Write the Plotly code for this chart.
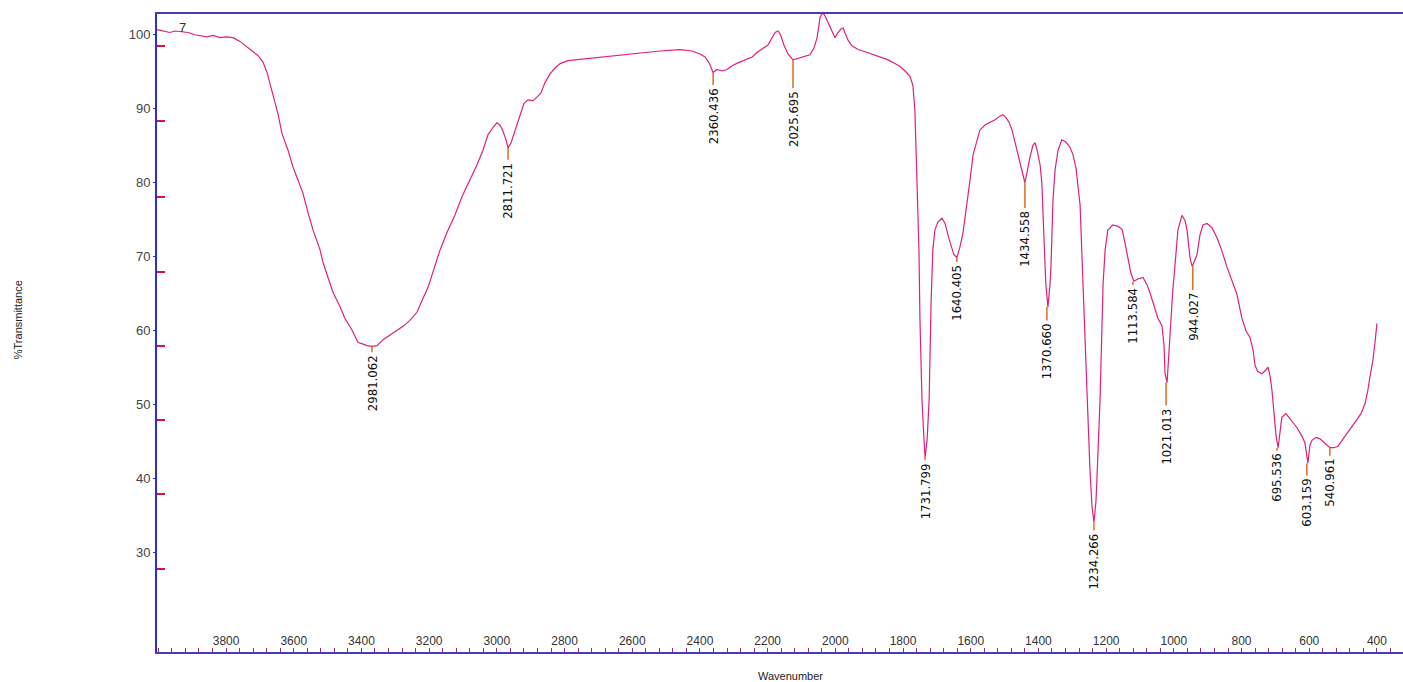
import plotly.graph_objects as go

# ---- spectrum data (wavenumber cm-1, %T) ----
wavenumber = [4004, 3986, 3966, 3951, 3930, 3912, 3892, 3877, 3856, 3838, 3818, 3797, 3779, 3759, 3738,
              3720, 3706, 3691, 3679, 3661, 3646, 3635, 3617, 3602, 3587, 3573, 3558, 3543, 3522, 3514,
              3499, 3484, 3463, 3449, 3428, 3410, 3395, 3384, 3369, 3354, 3336, 3316, 3295, 3274, 3257,
              3236, 3221, 3203, 3189, 3177, 3168, 3147, 3124, 3103, 3079, 3059, 3041, 3026, 3011, 3000,
              2991, 2982, 2973, 2967, 2958, 2946, 2932, 2920, 2908, 2893, 2881, 2870, 2858, 2843, 2828,
              2813, 2790, 2769, 2725, 2695, 2636, 2577, 2518, 2459, 2423, 2400, 2385, 2373, 2361, 2350,
              2335, 2320, 2305, 2288, 2267, 2246, 2229, 2211, 2199, 2187, 2178, 2169, 2161, 2152, 2140,
              2125, 2110, 2090, 2075, 2063, 2054, 2048, 2045, 2039, 2034, 2028, 2019, 2010, 2001, 1992,
              1983, 1977, 1972, 1963, 1951, 1933, 1912, 1892, 1868, 1844, 1824, 1809, 1794, 1780, 1771,
              1765, 1759, 1753, 1750, 1744, 1738, 1735, 1729, 1723, 1717, 1712, 1706, 1697, 1685, 1676,
              1667, 1658, 1650, 1641, 1632, 1623, 1611, 1602, 1593, 1582, 1573, 1558, 1543, 1528, 1514,
              1505, 1496, 1487, 1478, 1469, 1460, 1452, 1443, 1440, 1431, 1425, 1416, 1410, 1404, 1395,
              1390, 1387, 1381, 1378, 1372, 1366, 1363, 1357, 1351, 1342, 1331, 1319, 1307, 1298, 1289,
              1277, 1268, 1263, 1257, 1248, 1242, 1236, 1230, 1227, 1218, 1209, 1203, 1195, 1180, 1165,
              1153, 1144, 1136, 1127, 1118, 1106, 1091, 1079, 1071, 1059, 1047, 1035, 1029, 1026, 1020,
              1014, 1011, 1003, 997, 988, 976, 967, 961, 952, 946, 938, 932, 923, 914, 902,
              887, 873, 858, 843, 828, 814, 799, 787, 775, 766, 760, 752, 740, 728, 722,
              716, 710, 704, 698, 692, 687, 681, 669, 657, 636, 622, 613, 607, 604, 598,
              592, 580, 568, 554, 539, 527, 515, 503, 489, 474, 459, 447, 435, 427, 421,
              412, 406, 400]
transmittance = [100.7, 100.5, 100.3, 100.5, 100.4, 100.3, 100.0, 99.9, 99.7, 99.9, 99.6, 99.7, 99.6, 99.1, 98.4,
                 97.7, 97.2, 96.3, 94.9, 91.6, 89.2, 86.7, 84.4, 82.1, 80.4, 78.6, 76.0, 73.6, 70.9, 69.3,
                 67.2, 65.2, 63.2, 61.7, 60.1, 58.4, 58.2, 58.0, 57.9, 58.0, 58.8, 59.4, 60.1, 60.7, 61.4,
                 62.5, 64.1, 65.9, 67.9, 69.8, 70.9, 73.3, 75.6, 78.1, 80.4, 82.4, 84.4, 86.5, 87.5, 88.1,
                 87.8, 87.0, 85.8, 84.7, 85.4, 87.1, 89.2, 90.7, 91.2, 91.1, 91.6, 92.1, 93.5, 94.7, 95.5,
                 96.1, 96.5, 96.6, 96.9, 97.0, 97.3, 97.6, 97.8, 98.0, 97.8, 97.4, 97.0, 96.2, 94.9, 95.3,
                 95.1, 95.3, 95.8, 96.2, 96.6, 97.0, 97.7, 98.2, 98.6, 99.6, 100.3, 100.5, 99.9, 98.6, 97.4,
                 96.6, 96.8, 97.0, 97.3, 98.2, 99.6, 101.4, 102.4, 102.8, 102.8, 102.3, 101.4, 100.3, 99.6, 100.3,
                 100.8, 100.9, 100.4, 99.3, 98.5, 98.0, 97.7, 97.4, 97.0, 96.6, 96.1, 95.7, 95.1, 94.4, 93.2,
                 89.8, 80.4, 70.9, 61.4, 50.6, 45.2, 42.9, 45.2, 50.6, 64.1, 70.9, 73.6, 74.7, 75.2, 74.5,
                 72.9, 71.4, 70.3, 69.9, 71.3, 73.2, 77.0, 80.4, 83.8, 85.8, 87.1, 87.8, 88.2, 88.5, 89.0,
                 89.2, 88.8, 88.2, 87.1, 85.4, 83.8, 82.1, 80.4, 80.0, 82.0, 83.5, 85.1, 85.4, 84.4, 82.4,
                 80.0, 75.4, 69.5, 66.2, 63.2, 66.2, 68.6, 77.7, 81.7, 84.4, 85.8, 85.5, 84.8, 83.8, 82.0,
                 77.0, 66.8, 60.1, 52.3, 41.5, 36.4, 34.1, 37.0, 40.2, 50.6, 66.4, 70.9, 73.6, 74.3, 74.1,
                 73.7, 71.8, 69.8, 67.8, 66.7, 67.0, 67.2, 66.2, 65.2, 63.4, 61.7, 60.7, 58.0, 54.2, 53.0,
                 57.4, 59.7, 65.5, 68.6, 73.6, 75.6, 74.9, 73.6, 69.8, 68.7, 69.5, 70.2, 72.9, 74.3, 74.5,
                 73.9, 72.6, 70.8, 68.6, 66.8, 65.0, 61.7, 60.0, 59.1, 57.4, 55.3, 54.5, 54.2, 54.7, 55.1,
                 54.0, 51.9, 48.3, 45.8, 44.2, 46.5, 48.3, 48.8, 48.1, 46.9, 45.8, 44.9, 43.1, 42.1, 44.5,
                 45.2, 45.6, 45.4, 44.8, 44.2, 44.2, 44.4, 45.2, 46.1, 46.9, 47.9, 48.8, 50.2, 51.9, 53.7,
                 56.0, 58.3, 61.0]

# ---- peak picks ----
peak_labels = ["2981.062", "2811.721", "2360.436", "2025.695", "1731.799", "1640.405", "1434.558",
               "1370.660", "1234.266", "1113.584", "1021.013", "944.027", "695.536", "603.159", "540.961"]
peak_wn = [3369, 2967, 2361, 2125, 1735, 1641, 1440, 1375, 1236, 1121, 1023, 944, 695, 607, 539]
peak_top = [58.0, 84.7, 94.9, 96.6, 42.9, 69.9, 80.0, 63.2, 34.1, 66.6, 53.0, 68.9, 44.2, 42.1, 44.2]
peak_bottom = [57.1, 83.1, 93.2, 92.8, 42.5, 69.3, 76.6, 61.4, 33.0, 66.2, 49.9, 65.5, 43.8, 40.4, 43.1]

x_ticks = [3800, 3600, 3400, 3200, 3000, 2800, 2600, 2400, 2200, 2000, 1800, 1600, 1400, 1200, 1000, 800, 600, 400]
y_ticks = [30, 40, 50, 60, 70, 80, 90, 100]
y_red_ticks = [98.5, 88.3, 78.1, 68.0, 57.9, 47.9, 37.9, 27.8, 17.7]

X_RANGE = [4004, 323]
Y_RANGE = [16.6, 102.8]
FONT = "Liberation Sans, Arial, sans-serif"
NARROW = "Liberation Sans Narrow, DejaVu Sans Condensed, Liberation Sans, sans-serif"

fig = go.Figure()
fig.add_trace(go.Scatter(x=wavenumber, y=transmittance, mode="lines",
                         line=dict(color="#e01f7e", width=1.2), showlegend=False,
                         hoverinfo="skip", cliponaxis=True))

for lab, wn, yt, yb in zip(peak_labels, peak_wn, peak_top, peak_bottom):
    fig.add_shape(type="line", x0=wn, x1=wn, y0=yt, y1=yb, xref="x", yref="y",
                  line=dict(color="#e06a20", width=1.5))
    fig.add_annotation(x=wn, y=yb, xref="x", yref="y", text=lab, textangle=-90,
                       showarrow=False, xanchor="center", yanchor="top", yshift=-1,
                       font=dict(family=NARROW, size=13, color="#111111"))

fig.add_annotation(x=3930, y=101.0, xref="x", yref="y", text="7", showarrow=False,
                   font=dict(family=FONT, size=13, color="#333333"))

fig.add_annotation(x=0.5, y=-0.037, xref="paper", yref="paper", text="Wavenumber",
                   showarrow=False, xanchor="center", yanchor="middle", xshift=10,
                   font=dict(family=FONT, size=11, color="#222222"))
fig.add_annotation(x=0, y=0.52, xref="paper", yref="paper", text="%Transmittance",
                   showarrow=False, textangle=-90, xanchor="center", yanchor="middle",
                   xshift=-139, font=dict(family=FONT, size=11, color="#222222"))

fig.update_layout(
    width=1403, height=682,
    margin=dict(l=157, r=0, t=14, b=30),
    paper_bgcolor="white", plot_bgcolor="white",
    showlegend=False,
    xaxis=dict(range=X_RANGE, tickvals=x_ticks, ticktext=[str(v) for v in x_ticks],
               ticks="inside", ticklen=4, tickcolor="#8a2a7a", tickwidth=1,
               ticklabelposition="inside", tickfont=dict(family=FONT, size=12, color="#333333"),
               showline=True, linecolor="#4a3ab8", linewidth=2, mirror=True,
               showgrid=False, zeroline=False,
               minor=dict(dtick=40, ticks="inside", ticklen=4, tickcolor="#8a2a7a", tickwidth=1)),
    yaxis=dict(range=Y_RANGE, tickvals=y_ticks, ticks="outside", ticklen=2,
               tickcolor="#2f2fd0", tickfont=dict(family=FONT, size=13, color="#444444"),
               showline=True, linecolor="#2f2fd0", linewidth=2,
               showgrid=False, zeroline=False),
    yaxis2=dict(range=Y_RANGE, overlaying="y", side="left", anchor="x",
                tickvals=y_red_ticks, ticks="inside", ticklen=8, tickcolor="#e0103a",
                tickwidth=1.5, showticklabels=False, showline=False, showgrid=False,
                zeroline=False),
)
fig.add_trace(go.Scatter(x=[None], y=[None], yaxis="y2", showlegend=False))

fig.write_html("out.html", config={"displayModeBar": False},
               post_script="document.body.style.margin='0px';document.body.style.overflow='hidden';")
